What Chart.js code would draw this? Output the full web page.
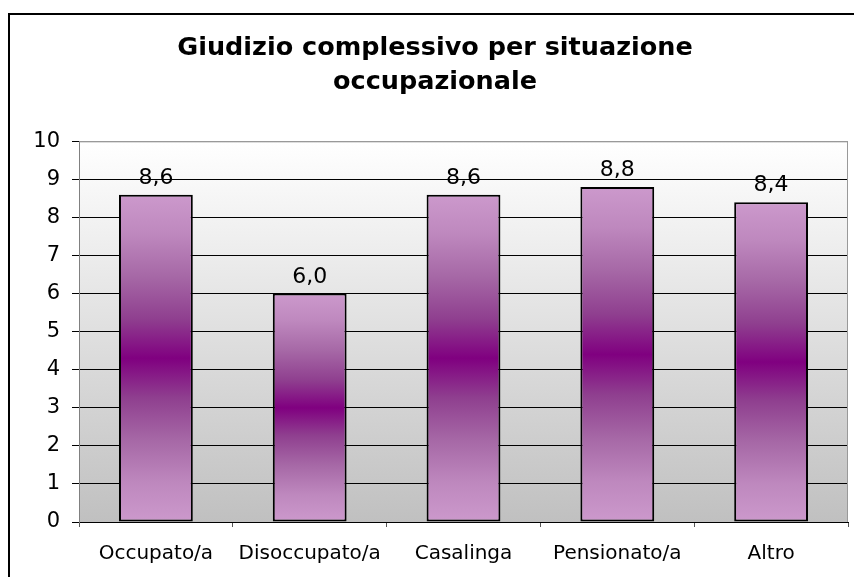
<!DOCTYPE html>
<html>
<head>
<meta charset="utf-8">
<script src="https://cdn.jsdelivr.net/npm/chart.js@4"></script>
<style>
  html, body { margin: 0; padding: 0; background: #fff; overflow: hidden; }
  #wrap { position: absolute; left: 0; top: 0; width: 854px; height: 577px; }
  #frame { position: absolute; left: 8px; top: 13px; width: 900px; height: 600px;
           border-left: 2px solid #000; border-top: 2px solid #000; pointer-events: none; }
</style>
</head>
<body>
<div id="wrap"><canvas id="scoreChart" width="854" height="577"></canvas></div>
<div id="frame"></div>
<script>
// === Data ===
const categories = ['Occupato/a', 'Disoccupato/a', 'Casalinga', 'Pensionato/a', 'Altro'];
const scores = [8.6, 6.0, 8.6, 8.8, 8.4];
const yMin = 0, yMax = 10, yStep = 1;

const FONT = '"DejaVu Sans", Verdana, sans-serif';
// light -> dark -> light, mirrored around the middle of each bar
const barStops = [
  [0, '#CC99CC'],
  [0.12, '#BE88BE'],
  [0.25, '#A668A6'],
  [0.38, '#8F3F8F'],
  [0.5, '#800080'],
  [0.62, '#8F3F8F'],
  [0.75, '#A668A6'],
  [0.88, '#BE88BE'],
  [1, '#CC99CC']
];

// plot area: grey gradient fill + thin grey border on top/right
const plotBackground = {
  id: 'plotBackground',
  beforeDraw(chart) {
    const { ctx, chartArea: a } = chart;
    const g = ctx.createLinearGradient(0, a.top, 0, a.bottom);
    g.addColorStop(0, '#ffffff');
    g.addColorStop(1, '#c0c0c0');
    ctx.save();
    ctx.fillStyle = g;
    ctx.fillRect(a.left, a.top, a.right - a.left, a.bottom - a.top);
    ctx.restore();
  },
  afterDatasetsDraw(chart) {
    const { ctx, chartArea: a } = chart;
    ctx.save();
    ctx.strokeStyle = '#999999';
    ctx.lineWidth = 1;
    ctx.beginPath();
    ctx.moveTo(a.left, a.top + 0.5);
    ctx.lineTo(a.right - 0.5, a.top + 0.5);
    ctx.lineTo(a.right - 0.5, a.bottom);
    ctx.stroke();
    ctx.restore();
  }
};

// value labels above each bar, with decimal comma
const valueLabels = {
  id: 'valueLabels',
  afterDatasetsDraw(chart) {
    const { ctx } = chart;
    const meta = chart.getDatasetMeta(0);
    ctx.save();
    ctx.font = '22px ' + FONT;
    ctx.fillStyle = '#000';
    ctx.textAlign = 'center';
    ctx.textBaseline = 'alphabetic';
    meta.data.forEach((bar, i) => {
      const txt = scores[i].toFixed(1).replace('.', ',');
      ctx.fillText(txt, bar.x, bar.y - 11);
    });
    ctx.restore();
  }
};

const ctx = document.getElementById('scoreChart').getContext('2d');
const scoreChart = new Chart(ctx, {
  type: 'bar',
  data: {
    labels: categories,
    datasets: [{
      data: scores,
      backgroundColor: (c) => {
        const chart = c.chart;
        if (!chart.chartArea || c.type !== 'data') return '#CC99CC';
        const y = chart.scales.y;
        const top = y.getPixelForValue(c.raw);
        const bottom = y.getPixelForValue(0);
        const g = chart.ctx.createLinearGradient(0, top, 0, bottom);
        barStops.forEach(([p, col]) => g.addColorStop(p, col));
        return g;
      },
      borderColor: '#000',
      borderWidth: 2,
      borderSkipped: false,
      categoryPercentage: 1,
      barPercentage: 0.48
    }]
  },
  options: {
    responsive: false,
    animation: false,
    layout: { padding: { left: 22, right: 6, top: 0, bottom: 0 } },
    plugins: {
      legend: { display: false },
      tooltip: { enabled: false },
      title: {
        display: true,
        text: ['Giudizio complessivo per situazione', 'occupazionale'],
        color: '#000',
        font: { family: FONT, size: 25.5, weight: 'bold', lineHeight: 1.34 },
        padding: { top: 31, bottom: 42 }
      }
    },
    scales: {
      x: {
        grid: {
          offset: true,
          drawOnChartArea: false,
          drawTicks: true,
          tickLength: 5,
          color: '#000',
          tickColor: '#555'
        },
        border: { color: '#000', width: 1 },
        ticks: { color: '#000', padding: 15, font: { family: FONT, size: 20 }, maxRotation: 0 },
        afterFit(scale) { scale.height = 55; }
      },
      y: {
        min: yMin,
        max: yMax,
        ticks: { stepSize: yStep, color: '#000', padding: 12, font: { family: FONT, size: 21 } },
        grid: {
          color: (c) => (c.tick && c.tick.value === yMax ? '#999999' : '#000000'),
          tickColor: '#000',
          tickLength: 7,
          lineWidth: 1
        },
        border: { color: '#808080', width: 1 },
        afterFit(scale) { scale.width = 57; }
      }
    }
  },
  plugins: [plotBackground, valueLabels]
});
</script>
</body>
</html>
